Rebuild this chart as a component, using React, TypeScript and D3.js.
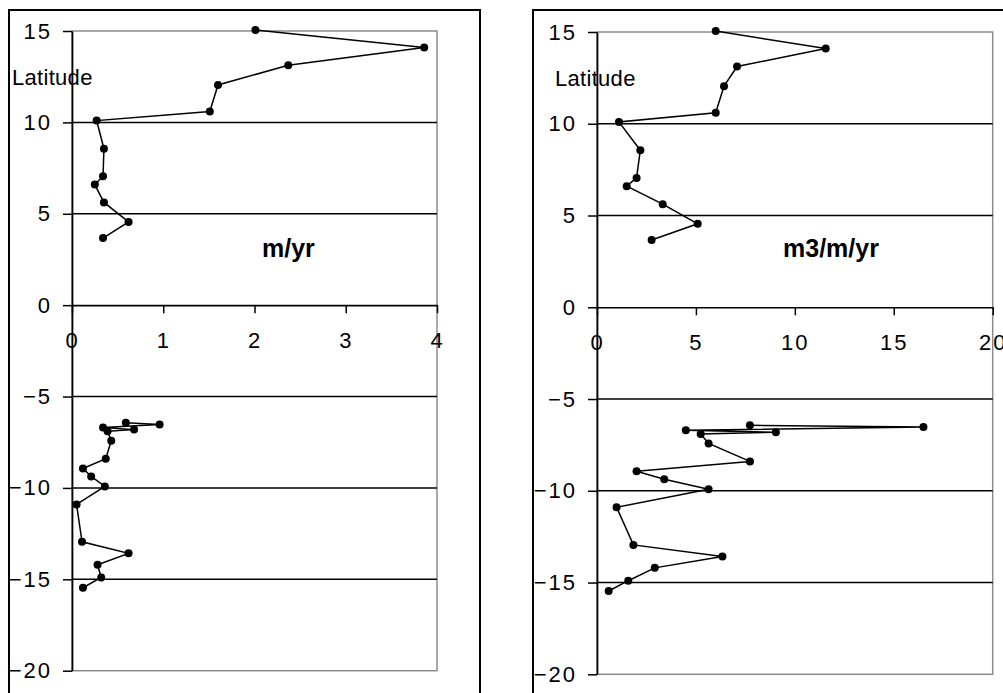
import React, { useEffect, useRef } from 'react';
import * as d3 from 'd3';

// latitude of each station (same for both panels)
const latitude = [
  15.05, 14.1, 13.12, 12.05, 10.6, 10.1, 8.56, 7.05, 6.6, 5.62, 4.55, 3.67,
  -6.43, -6.53, -6.7, -6.81, -6.9, -7.42, -8.4, -8.94, -9.37, -9.92, -10.9,
  -12.95, -13.58, -14.2, -14.9, -15.46,
];

// m/yr
const rateMyr = [
  2.01, 3.86, 2.37, 1.6, 1.51, 0.27, 0.35, 0.34, 0.25, 0.35, 0.62, 0.34,
  0.59, 0.96, 0.34, 0.68, 0.39, 0.43, 0.37, 0.12, 0.21, 0.36, 0.05,
  0.11, 0.62, 0.28, 0.32, 0.12,
];

// m3/m/yr
const volumeM3 = [
  6.0, 11.56, 7.08, 6.42, 6.0, 1.11, 2.19, 2.0, 1.5, 3.32, 5.09, 2.76,
  7.73, 16.5, 4.49, 9.04, 5.24, 5.64, 7.73, 2.0, 3.4, 5.64, 0.99,
  1.84, 6.34, 2.92, 1.58, 0.59,
];

const yTicks = [-20, -15, -10, -5, 0, 5, 10, 15];
const xTicksRate = [0, 1, 2, 3, 4];
const xTicksVol = [0, 5, 10, 15, 20];

const FONT = '"Liberation Sans", Arial, sans-serif';

const Panel = (props) => {
  const { values, xMax, xTicks, unit, frame, plot, latLabel, unitPos } = props;
  const gRef = useRef(null);

  useEffect(() => {
    const g = d3.select(gRef.current);
    g.selectAll('*').remove();

    const x = d3.scaleLinear().domain([0, xMax]).range([plot.left, plot.right]);
    const y = d3.scaleLinear().domain([-20, 15]).range([plot.bottom, plot.top]);

    // outer frame
    g.append('rect')
      .attr('x', frame.x).attr('y', frame.y)
      .attr('width', frame.w).attr('height', 720)
      .attr('fill', 'white').attr('stroke', '#000').attr('stroke-width', 2);

    // plot area border (grey)
    g.append('rect')
      .attr('x', plot.left).attr('y', plot.top)
      .attr('width', plot.right - plot.left).attr('height', plot.bottom - plot.top)
      .attr('fill', 'none').attr('stroke', '#8c8c8c').attr('stroke-width', 1.5);

    // grid lines
    g.selectAll('.grid')
      .data(yTicks.filter(d => d > -20 && d < 15 && d !== 0))
      .join('line')
      .attr('class', 'grid')
      .attr('x1', plot.left).attr('x2', plot.right)
      .attr('y1', d => y(d)).attr('y2', d => y(d))
      .attr('stroke', '#000').attr('stroke-width', 1.5);

    // y axis
    const yAxis = d3.axisLeft(y).tickValues(yTicks).tickFormat(d3.format('d'))
      .tickSize(9).tickSizeOuter(0).tickPadding(11);
    const ya = g.append('g').attr('transform', `translate(${plot.left},0)`).call(yAxis);
    ya.select('.domain').attr('stroke-width', 1.7);
    ya.selectAll('line').attr('stroke-width', 1.5);
    ya.selectAll('text')
      .attr('font-size', 22).attr('font-family', FONT).attr('fill', '#000')
      .attr('letter-spacing', 2);

    // x axis at y = 0
    const xAxis = d3.axisBottom(x).tickValues(xTicks).tickFormat(d3.format('d'))
      .tickSize(8).tickSizeOuter(0).tickPadding(19);
    const xa = g.append('g').attr('transform', `translate(0,${y(0)})`).call(xAxis);
    xa.select('.domain').attr('stroke-width', 1.7);
    xa.selectAll('line').attr('stroke-width', 1.5);
    xa.selectAll('text')
      .attr('font-size', 22).attr('font-family', FONT).attr('fill', '#000')
      .attr('letter-spacing', 2);

    // series line (two latitude groups)
    const pts = values.map((v, i) => [v, latitude[i]]);
    const line = d3.line().x(d => x(d[0])).y(d => y(d[1]));
    g.append('path')
      .attr('d', line(pts.slice(0, 12)))
      .attr('fill', 'none').attr('stroke', '#000').attr('stroke-width', 1.5);
    g.append('path')
      .attr('d', line(pts.slice(12)))
      .attr('fill', 'none').attr('stroke', '#000').attr('stroke-width', 1.5);

    g.selectAll('.dot')
      .data(pts)
      .join('circle')
      .attr('class', 'dot')
      .attr('cx', d => x(d[0])).attr('cy', d => y(d[1]))
      .attr('r', 4).attr('fill', '#000');

    // labels
    g.append('text')
      .attr('x', latLabel.x).attr('y', latLabel.y)
      .attr('font-size', 22).attr('font-family', FONT)
      .attr('letter-spacing', 0.3)
      .text('Latitude');

    g.append('text')
      .attr('x', unitPos.x).attr('y', unitPos.y)
      .attr('font-size', 25).attr('font-weight', 'bold').attr('font-family', FONT)
      .text(unit);
  }, [values, xMax]);

  return <g ref={gRef} />;
};

const App = () => {
  return (
    <svg
      width={1003}
      height={693}
      style={{ position: 'absolute', left: 0, top: 0, background: 'white' }}
    >
      <rect x={0} y={0} width={1003} height={693} fill="white" />
      <Panel
        values={rateMyr}
        xMax={4}
        xTicks={xTicksRate}
        unit="m/yr"
        frame={{ x: 9, y: 10, w: 471 }}
        plot={{ left: 72, right: 437, top: 31, bottom: 670.7 }}
        latLabel={{ x: 12, y: 85 }}
        unitPos={{ x: 262, y: 257 }}
      />
      <Panel
        values={volumeM3}
        xMax={20}
        xTicks={xTicksVol}
        unit="m3/m/yr"
        frame={{ x: 533, y: 10, w: 500 }}
        plot={{ left: 597, right: 992.7, top: 32, bottom: 674.3 }}
        latLabel={{ x: 555, y: 86 }}
        unitPos={{ x: 783, y: 257 }}
      />
    </svg>
  );
};

export default App;
